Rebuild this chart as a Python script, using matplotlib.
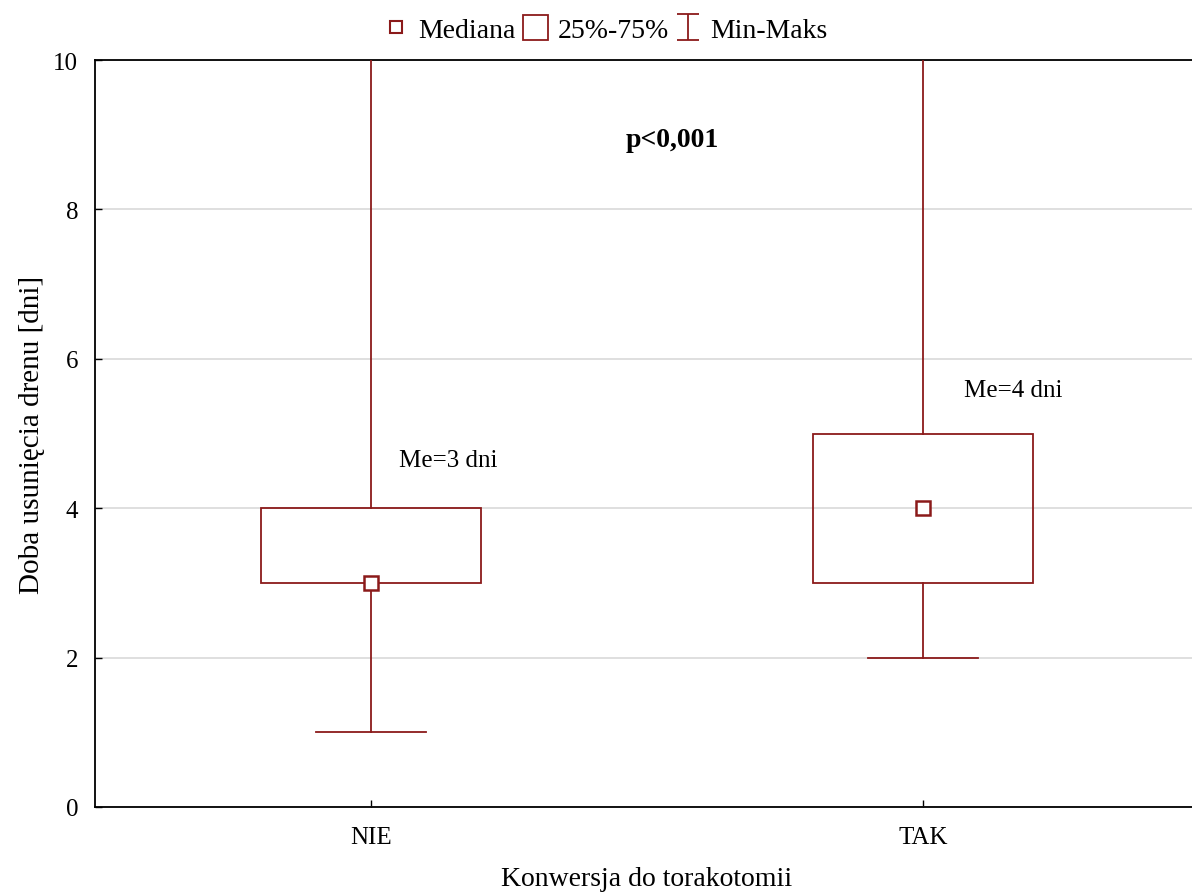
import numpy as np
import matplotlib
matplotlib.use("Agg")
import matplotlib.pyplot as plt
from matplotlib.lines import Line2D
from matplotlib.path import Path

plt.rcParams['font.family'] = ['Liberation Serif', 'DejaVu Serif']

# data
groups = ['NIE', 'TAK']
medians = [3, 4]
q1 = [3, 3]
q3 = [4, 5]
mins = [1, 2]
maxs = [20, 20]  # upper whisker runs past the top of the axis
me_labels = ['Me=3 dni', 'Me=4 dni']
p_text = 'p<0,001'

red = '#8B1A1A'

fig = plt.figure(figsize=(11.92, 8.95), dpi=100)
ax = fig.add_axes([95 / 1192, 1 - 808 / 895, 1104 / 1192, (808 - 61) / 895])

pos = np.arange(len(groups))
box_w = 0.4
cap_w = 0.2

for i in pos:
    # whiskers
    ax.plot([i, i], [mins[i], q1[i]], color=red, lw=1.3, zorder=3)
    ax.plot([i, i], [q3[i], maxs[i]], color=red, lw=1.3, zorder=3)
    ax.plot([i - cap_w / 2, i + cap_w / 2], [mins[i], mins[i]], color=red, lw=1.3, zorder=3)
    ax.plot([i - cap_w / 2, i + cap_w / 2], [maxs[i], maxs[i]], color=red, lw=1.3, zorder=3)
    # box
    ax.add_patch(plt.Rectangle((i - box_w / 2, q1[i]), box_w, q3[i] - q1[i],
                               fill=False, edgecolor=red, lw=1.3, zorder=3))
    # median
    ax.plot(i, medians[i], marker='s', ms=9.5, mfc='white', mec=red, mew=1.8, zorder=4)

ax.text(0.14, 4.64, me_labels[0], ha='center', va='center', fontsize=18)
ax.text(1.163, 5.58, me_labels[1], ha='center', va='center', fontsize=18)
ax.text(0.545, 8.94, p_text, ha='center', va='center', fontsize=20, fontweight='bold')

ax.set_xlim(-0.5, 1.5)
ax.set_ylim(0, 10)
ax.set_xticks(pos)
ax.set_xticklabels(groups)
ax.set_yticks([0, 2, 4, 6, 8, 10])
ax.tick_params(direction='in', length=5, labelsize=18, width=1)
ax.tick_params(axis='x', pad=14)
ax.tick_params(axis='y', pad=12)
ax.yaxis.grid(True, color='#d9d9d9', lw=1.2)
ax.set_axisbelow(True)
for s in ax.spines.values():
    s.set_linewidth(1.3)
ax.spines['right'].set_visible(False)

ax.set_xlabel('Konwersja do torakotomii', fontsize=20, labelpad=13)
ax.set_ylabel('Doba usunięcia drenu [dni]', fontsize=21, labelpad=6)

# legend handles
ibeam = Path([(-0.85, 1), (0.85, 1), (0, 1), (0, -1), (-0.85, -1), (0.85, -1)],
             [Path.MOVETO, Path.LINETO, Path.MOVETO, Path.LINETO, Path.MOVETO, Path.LINETO])
handles = [
    Line2D([], [], ls='none', marker='s', ms=8.5, mfc='white', mec=red, mew=1.5),
    Line2D([], [], ls='none', marker='s', ms=18, mfc='white', mec=red, mew=1.3),
    Line2D([], [], ls='none', marker=ibeam, ms=19, mec=red, mew=1.3),
]
fig.legend(handles, ['Mediana', '25%-75%', 'Min-Maks'], loc='center',
           bbox_to_anchor=(605 / 1192, 1 - 31 / 895), ncol=3, frameon=False,
           fontsize=20, handlelength=1.0, handletextpad=0.3, columnspacing=0.2)

fig.savefig('out.png', dpi=100)
